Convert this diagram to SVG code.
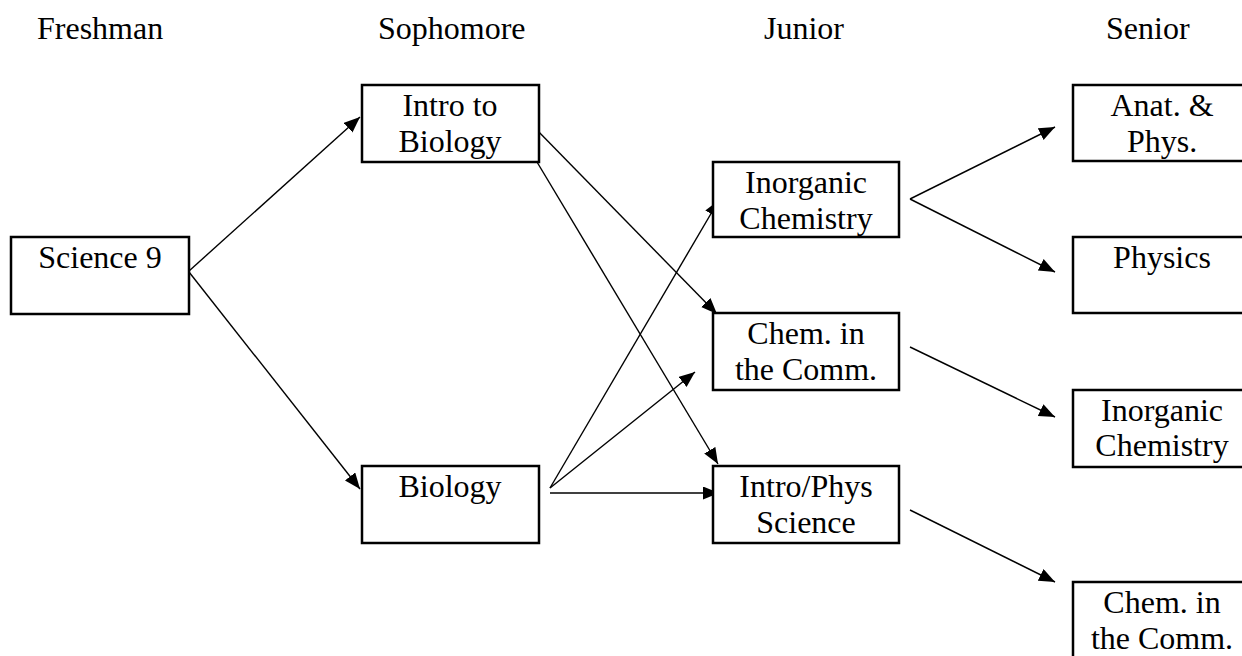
<svg xmlns="http://www.w3.org/2000/svg" width="1242" height="656" viewBox="0 0 1242 656">
<style>
text{font-family:"Liberation Serif","Times New Roman",serif;font-size:32px;fill:#000;text-anchor:middle}
.hdr{text-anchor:start}
rect{fill:#fff;stroke:#000;stroke-width:2.5}
.c line{stroke:#000;stroke-width:1.4;marker-end:url(#ah)}
</style>
<defs>
<marker id="ah" markerUnits="userSpaceOnUse" markerWidth="18" markerHeight="14" refX="16" refY="6.5" orient="auto">
<path d="M0,0 L16,6.5 L0,13 Z" fill="#000"/>
</marker>
</defs>
<g id="headers">
<text class="hdr" x="37" y="39">Freshman</text>
<text class="hdr" x="378" y="39">Sophomore</text>
<text class="hdr" x="764" y="39">Junior</text>
<text class="hdr" x="1106" y="39">Senior</text>
</g>
<g class="c" id="connectors">
<line x1="189" y1="271" x2="360" y2="117"/>
<line x1="189" y1="272" x2="360" y2="489"/>
<line x1="534" y1="127" x2="717" y2="314"/>
<line x1="534" y1="157" x2="718" y2="464"/>
<line x1="550" y1="488" x2="719" y2="200"/>
<line x1="550" y1="488" x2="695" y2="372"/>
<line x1="550" y1="493" x2="719" y2="493"/>
<line x1="910" y1="199" x2="1055" y2="127"/>
<line x1="910" y1="199" x2="1055" y2="272"/>
<line x1="910" y1="347" x2="1055" y2="417"/>
<line x1="910" y1="510" x2="1055" y2="582"/>
</g>
<g id="science9"><rect x="11" y="237" width="178" height="77"/><text x="100" y="268">Science 9</text></g>
<g id="introbio"><rect x="362" y="85" width="177" height="77"/><text x="450" y="116">Intro to</text><text x="450" y="152">Biology</text></g>
<g id="biology"><rect x="362" y="466" width="177" height="77"/><text x="450" y="497">Biology</text></g>
<g id="inorgchem-j"><rect x="713" y="162" width="186" height="75"/><text x="806" y="193">Inorganic</text><text x="806" y="229">Chemistry</text></g>
<g id="chemcomm-j"><rect x="713" y="313" width="186" height="77"/><text x="806" y="344">Chem. in</text><text x="806" y="380">the Comm.</text></g>
<g id="introphys-j"><rect x="713" y="466" width="186" height="77"/><text x="806" y="497">Intro/Phys</text><text x="806" y="533">Science</text></g>
<g id="anatphys"><rect x="1073" y="85" width="186" height="76"/><text x="1162" y="116">Anat. &amp;</text><text x="1162" y="152">Phys.</text></g>
<g id="physics"><rect x="1073" y="237" width="186" height="76"/><text x="1162" y="268">Physics</text></g>
<g id="inorgchem-s"><rect x="1073" y="390" width="186" height="77"/><text x="1162" y="421">Inorganic</text><text x="1162" y="456">Chemistry</text></g>
<g id="chemcomm-s"><rect x="1073" y="582" width="186" height="80"/><text x="1162" y="613">Chem. in</text><text x="1162" y="649">the Comm.</text></g>
</svg>
